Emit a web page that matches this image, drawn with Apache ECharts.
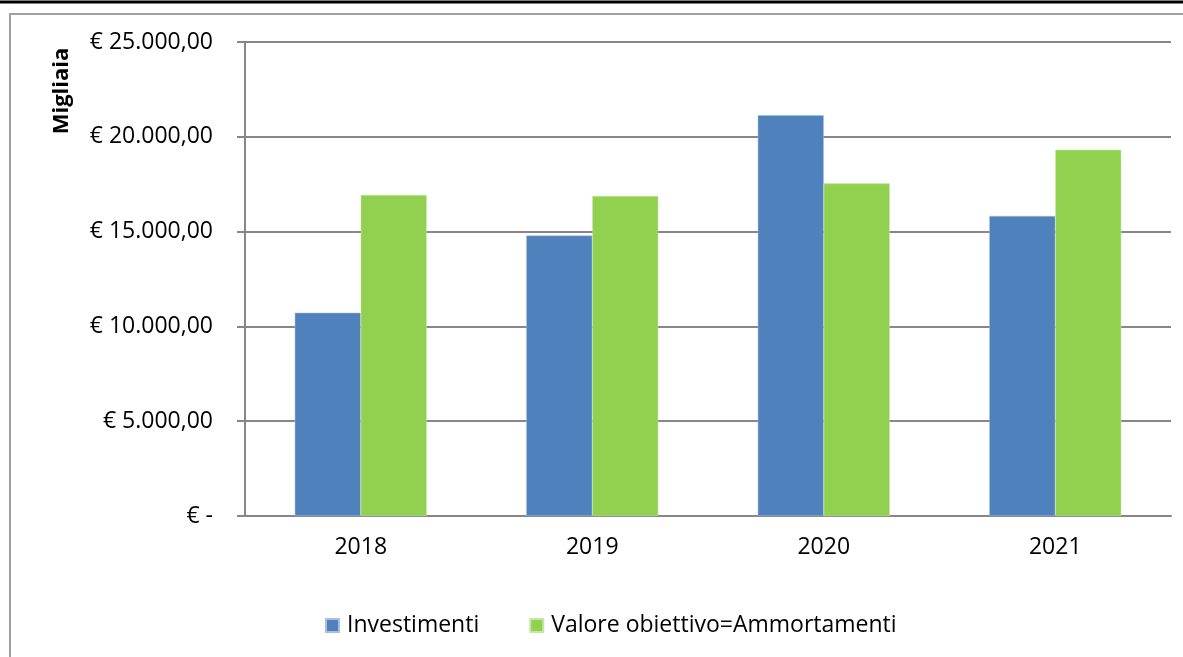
<!DOCTYPE html>
<html>
<head>
<meta charset="utf-8">
<script src="https://cdn.jsdelivr.net/npm/echarts@6/dist/echarts.min.js"></script>
<style>
    html, body { margin: 0; padding: 0; background: #fff; }
    #chart { width: 1183px; height: 657px; }
</style>
</head>
<body>
<div id="chart"></div>
<script>
// Data
var years = ['2018', '2019', '2020', '2021'];
var investimenti = [10720, 14790, 21140, 15825];
var ammortamenti = [16930, 16877, 17545, 19316];
var seriesNames = ['Investimenti', 'Valore obiettivo=Ammortamenti'];

function euro(v) {
    if (v === 0) return '€ -';
    var s = Math.round(v).toString().replace(/\B(?=(\d{3})+(?!\d))/g, '.');
    return '€ ' + s + ',00';
}

var font = 'Open Sans';
var gridColor = '#878787';

var chart = echarts.init(document.getElementById('chart'));
var option = {
    animation: false,
    textStyle: { fontFamily: font },
    graphic: [
        {
            type: 'rect',
            shape: { x: 10, y: 14, width: 1200, height: 700 },
            style: { fill: 'none', stroke: '#a0a0a0', lineWidth: 2 }
        },
        {
            type: 'line',
            shape: { x1: 0, y1: 2, x2: 1183, y2: 2 },
            style: { stroke: '#000', lineWidth: 3 }
        },
        {
            type: 'text',
            x: 62,
            y: 91,
            rotation: Math.PI / 2,
            style: {
                text: 'Migliaia',
                fontFamily: font,
                fontWeight: 'bold',
                fontSize: 22,
                fill: '#000',
                align: 'center',
                verticalAlign: 'middle'
            }
        }
    ],
    grid: {
        left: 245,
        right: 12,
        top: 42,
        bottom: 141,
        containLabel: false
    },
    legend: {
        top: 609,
        left: 320,
        itemWidth: 13,
        itemHeight: 13,
        itemGap: 50,
        icon: 'rect',
        textStyle: { fontFamily: font, fontSize: 23, color: '#000', padding: [0, 0, 0, 3] },
        data: seriesNames
    },
    xAxis: {
        type: 'category',
        data: years,
        axisLine: { lineStyle: { color: gridColor, width: 2 } },
        axisTick: { length: 8, lineStyle: { color: gridColor, width: 2 } },
        axisLabel: { fontFamily: font, fontSize: 23, color: '#000', margin: 20 }
    },
    yAxis: {
        type: 'value',
        min: 0,
        max: 25000,
        interval: 5000,
        axisLine: { show: true, lineStyle: { color: gridColor, width: 2 } },
        axisTick: { show: true, length: 8, lineStyle: { color: gridColor, width: 2 } },
        splitLine: { lineStyle: { color: gridColor, width: 2 } },
        axisLabel: {
            fontFamily: font,
            fontSize: 23,
            color: '#000',
            margin: 32,
            formatter: euro
        }
    },
    series: [
        {
            name: seriesNames[0],
            type: 'bar',
            data: investimenti,
            barGap: '0%',
            barCategoryGap: '43%',
            itemStyle: { color: '#4F81BD', borderColor: '#a9bfe0', borderWidth: 0.5 }
        },
        {
            name: seriesNames[1],
            type: 'bar',
            data: ammortamenti,
            barGap: '0%',
            barCategoryGap: '43%',
            itemStyle: { color: '#92D050', borderColor: '#c6e8a6', borderWidth: 0.5 }
        }
    ]
};
chart.setOption(option);
</script>
</body>
</html>
